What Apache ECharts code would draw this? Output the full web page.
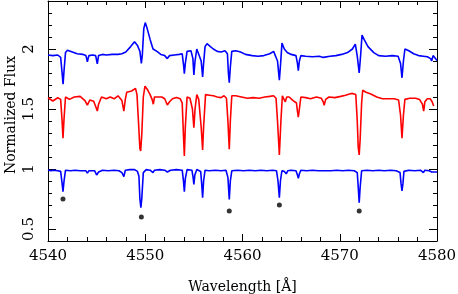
<!DOCTYPE html>
<html><head><meta charset="utf-8">
<script src="https://cdn.jsdelivr.net/npm/echarts@6/dist/echarts.min.js"></script>
<style>html,body{margin:0;padding:0;background:#fff}#c{width:458px;height:294px}</style>
</head><body><div id="c"></div>
<script>
// Top (blue) spectrum
const topWave = [4540.0,4540.5,4541.0,4541.3,4541.45,4541.55,4541.65,4541.8,4542.0,4542.5,4543.0,4543.6,4543.9,4544.05,4544.2,4544.6,4544.9,4545.07,4545.2,4545.6,4546.0,4546.6,4547.2,4547.6,4547.8,4548.0,4548.5,4548.9,4549.0,4549.2,4549.35,4549.45,4549.6,4549.7,4549.85,4550.0,4550.2,4550.5,4550.8,4551.2,4551.6,4552.0,4552.27,4552.5,4553.0,4553.5,4553.8,4553.95,4554.02,4554.12,4554.3,4554.7,4554.9,4555.0,4555.12,4555.3,4555.5,4555.75,4555.9,4556.0,4556.15,4556.35,4556.7,4557.0,4557.4,4557.8,4558.2,4558.45,4558.55,4558.64,4558.75,4558.9,4559.3,4559.8,4560.3,4561.0,4561.6,4562.2,4562.8,4563.2,4563.4,4563.6,4563.79,4563.92,4564.06,4564.3,4564.6,4565.0,4565.5,4565.65,4565.74,4565.85,4566.0,4566.5,4567.2,4567.9,4568.3,4568.4,4568.5,4569.0,4569.6,4570.2,4570.8,4571.3,4571.6,4571.8,4572.0,4572.15,4572.29,4572.5,4572.9,4573.5,4574.0,4574.7,4575.4,4576.0,4576.25,4576.4,4576.55,4576.7,4577.1,4577.6,4578.1,4578.6,4579.0,4579.35,4579.45,4579.6,4579.8,4580.0];
const topFlux = [1.95,1.945,1.95,1.93,1.80,1.706,1.82,1.97,1.99,1.975,1.96,1.955,1.945,1.894,1.945,1.95,1.945,1.877,1.945,1.955,1.95,1.955,1.955,1.96,1.945,1.975,2.02,2.06,2.07,2.03,2.00,1.98,1.88,1.95,2.17,2.22,2.17,2.08,2.00,1.98,1.955,1.945,1.92,1.945,1.95,1.955,1.96,1.86,1.794,1.88,1.98,1.985,1.92,1.783,1.90,2.00,1.99,1.90,1.767,1.88,2.02,2.044,2.02,2.00,1.98,1.975,1.985,1.96,1.80,1.72,1.85,1.98,1.985,1.975,1.955,1.945,1.94,1.945,1.96,1.98,1.995,1.90,1.74,1.88,2.05,2.00,1.97,1.955,1.945,1.88,1.82,1.90,1.945,1.94,1.935,1.94,1.93,1.92,1.935,1.94,1.945,1.955,1.97,2.00,2.04,1.94,1.80,1.95,2.117,2.08,2.02,1.97,1.945,1.94,1.945,1.94,1.88,1.76,1.90,2.00,1.985,1.96,1.945,1.94,1.935,1.92,1.90,1.945,1.93,1.905];

// Middle (red) spectrum
const midWave = [4540.0,4540.5,4541.0,4541.3,4541.45,4541.54,4541.65,4541.8,4542.2,4542.7,4543.3,4543.8,4544.05,4544.3,4544.7,4545.0,4545.07,4545.2,4545.5,4546.0,4546.4,4546.8,4547.2,4547.6,4547.8,4547.95,4548.1,4548.6,4549.0,4549.15,4549.3,4549.45,4549.53,4549.65,4549.8,4549.97,4550.2,4550.5,4550.7,4550.83,4550.95,4551.3,4551.7,4552.0,4552.27,4552.5,4552.8,4553.2,4553.6,4553.8,4553.92,4554.02,4554.12,4554.3,4554.6,4554.85,4555.0,4555.12,4555.3,4555.5,4555.75,4555.9,4556.0,4556.2,4556.6,4557.0,4557.4,4557.8,4558.1,4558.35,4558.5,4558.64,4558.75,4558.9,4559.3,4559.9,4560.5,4561.1,4561.7,4562.3,4562.8,4563.2,4563.45,4563.6,4563.79,4563.95,4564.1,4564.25,4564.4,4564.55,4564.8,4565.2,4565.55,4565.65,4565.74,4565.85,4566.0,4566.5,4567.0,4567.6,4568.1,4568.3,4568.4,4568.55,4568.9,4569.5,4570.1,4570.6,4571.0,4571.3,4571.65,4571.8,4571.9,4572.0,4572.1,4572.25,4572.36,4572.7,4573.2,4573.8,4574.4,4575.0,4575.6,4576.05,4576.25,4576.4,4576.55,4576.7,4577.2,4577.8,4578.2,4578.5,4578.63,4578.75,4579.0,4579.3,4579.5,4579.66];
const midFlux = [1.594,1.567,1.594,1.58,1.40,1.256,1.42,1.60,1.58,1.60,1.605,1.57,1.533,1.575,1.565,1.50,1.483,1.54,1.60,1.585,1.60,1.585,1.61,1.57,1.483,1.58,1.64,1.65,1.672,1.62,1.40,1.17,1.15,1.30,1.60,1.69,1.665,1.62,1.58,1.54,1.60,1.60,1.60,1.585,1.533,1.56,1.585,1.595,1.585,1.55,1.30,1.108,1.35,1.60,1.59,1.50,1.344,1.50,1.62,1.58,1.35,1.158,1.35,1.62,1.615,1.61,1.60,1.595,1.61,1.59,1.40,1.164,1.40,1.61,1.61,1.60,1.59,1.595,1.59,1.60,1.605,1.61,1.59,1.40,1.117,1.40,1.61,1.60,1.56,1.60,1.60,1.57,1.55,1.48,1.433,1.50,1.60,1.595,1.585,1.60,1.59,1.56,1.53,1.58,1.60,1.595,1.605,1.615,1.625,1.63,1.62,1.40,1.18,1.117,1.25,1.55,1.656,1.64,1.625,1.60,1.585,1.585,1.585,1.575,1.45,1.256,1.45,1.58,1.59,1.59,1.58,1.54,1.483,1.56,1.585,1.585,1.56,1.525];

// Bottom (blue) spectrum
const lowWave = [4540.0,4540.3,4540.6,4541.0,4541.3,4541.45,4541.54,4541.65,4541.8,4542.3,4542.8,4543.3,4543.9,4544.05,4544.2,4544.8,4545.0,4545.07,4545.2,4545.6,4546.2,4546.8,4547.3,4547.6,4547.8,4547.95,4548.4,4548.9,4549.2,4549.35,4549.45,4549.55,4549.65,4549.8,4550.1,4550.5,4550.8,4550.95,4551.5,4552.0,4552.27,4552.6,4553.2,4553.8,4553.93,4554.02,4554.12,4554.3,4554.8,4554.92,4555.0,4555.1,4555.3,4555.7,4555.8,4555.9,4556.0,4556.15,4556.6,4557.2,4557.8,4558.3,4558.5,4558.64,4558.75,4558.9,4559.5,4560.1,4560.7,4561.3,4561.9,4562.5,4563.1,4563.5,4563.65,4563.79,4563.9,4564.05,4564.3,4564.5,4564.65,4565.0,4565.5,4565.65,4565.74,4565.85,4566.0,4566.6,4567.2,4567.8,4568.3,4568.4,4568.5,4569.1,4569.7,4570.3,4570.9,4571.5,4571.8,4571.9,4572.0,4572.1,4572.25,4572.8,4573.4,4574.0,4574.6,4575.2,4575.8,4576.2,4576.3,4576.4,4576.5,4576.6,4577.1,4577.7,4578.3,4578.6,4578.75,4579.2,4579.45,4579.6,4580.0];
const lowFlux = [0.992,0.985,0.99,0.985,0.98,0.88,0.811,0.90,0.99,0.985,0.99,0.985,0.985,0.965,0.985,0.985,0.95,0.942,0.975,0.99,0.985,0.99,0.985,0.97,0.936,0.99,0.995,0.995,0.98,0.94,0.75,0.678,0.76,0.97,0.995,0.99,0.97,0.99,0.995,0.99,0.975,0.99,0.995,0.99,0.90,0.811,0.92,0.995,0.99,0.93,0.872,0.95,0.995,0.98,0.88,0.761,0.90,0.99,0.985,0.99,0.985,0.99,0.93,0.747,0.90,0.985,0.99,0.985,0.99,0.985,0.99,0.985,0.99,0.985,0.90,0.761,0.90,0.985,0.98,0.96,0.985,0.99,0.985,0.95,0.922,0.96,0.99,0.985,0.99,0.985,0.985,0.975,0.99,0.985,0.99,0.985,0.99,0.985,0.97,0.85,0.719,0.85,0.985,0.99,0.985,0.99,0.985,0.99,0.985,0.97,0.88,0.817,0.88,0.98,0.99,0.985,0.99,0.97,0.99,0.985,0.975,0.985,0.975];

// Marked lines (black dots)
const dotWave = [4541.54,4549.6,4558.64,4563.79,4572.0];
const dotFlux = [0.75,0.60,0.65,0.70,0.65];

// Axis ticks
const xMajor = [4540,4550,4560,4570,4580];
const yMajor = [0.5,1,1.5,2];
const yRange = [0.4,2.4];

const FONT = 'DejaVu Serif';
const pairs = (a,b) => a.map((x,i)=>[x,b[i]]);
const chart = echarts.init(document.getElementById('c'), null, {renderer:'canvas'});
const black = {color:'#000', width:1};
// main plot box: y from 1 to 241 px => 120 px per flux unit
const TOP = 1, BOT = 53, H = 294 - TOP - BOT;
const ppu = H / (yRange[1] - yRange[0]);
const G0 = {left:48, right:21, top:TOP, bottom:BOT, containLabel:false, outerBoundsMode:'none'};
// second grid spans exactly the major tick range so its ticks land on yMajor values
const G1 = {left:48, right:21,
  top: TOP + (yRange[1] - yMajor[yMajor.length-1]) * ppu,
  bottom: BOT + (yMajor[0] - yRange[0]) * ppu,
  containLabel:false, outerBoundsMode:'none'};

const xBase = (pos, labels) => ({
  type:'value', position:pos, gridIndex:0, min:xMajor[0], max:xMajor[xMajor.length-1], interval:10,
  axisLine:{show:true, onZero:false, lineStyle:black},
  axisTick:{show:true, inside:true, length:7, lineStyle:black},
  minorTick:{show:true, splitNumber:5, length:4, lineStyle:black},
  splitLine:{show:false},
  axisLabel:{show:labels, color:'#000', fontFamily:FONT, fontSize:15, margin:8,
    showMinLabel:true, showMaxLabel:true, formatter:(v)=>String(v)}
});
const yMinor = (pos) => ({
  type:'value', position:pos, gridIndex:0, min:yRange[0], max:yRange[1], interval:0.1,
  axisLine:{show:true, onZero:false, lineStyle:black},
  axisTick:{show:true, inside:true, length:4, lineStyle:black},
  splitLine:{show:false}, axisLabel:{show:false}
});
const yMaj = (pos, labels) => ({
  type:'value', position:pos, gridIndex:1, min:yMajor[0], max:yMajor[yMajor.length-1], interval:0.5,
  axisLine:{show:false},
  axisTick:{show:true, inside:true, length:8, lineStyle:black},
  splitLine:{show:false},
  axisLabel:{show:labels, rotate:90, color:'#000', fontFamily:FONT, fontSize:15, margin:11,
    showMinLabel:true, showMaxLabel:true, formatter:(v)=>String(v)}
});
const xb = xBase('bottom', true);
xb.name = 'Wavelength [Å]';
xb.nameLocation = 'middle';
xb.nameGap = 39;
xb.nameTextStyle = {color:'#000', fontFamily:FONT, fontSize:14};
const yl = yMinor('left');
yl.name = 'Normalized Flux';
yl.nameLocation = 'middle';
yl.nameGap = 30;
yl.nameTextStyle = {color:'#000', fontFamily:FONT, fontSize:14, padding:[0,0,0,12]};

chart.setOption({
  animation:false,
  backgroundColor:'#fff',
  grid:[G0, G1],
  xAxis:[xb, xBase('top', false),
    {type:'value', gridIndex:1, min:xMajor[0], max:xMajor[xMajor.length-1], show:false}],
  yAxis:[yl, yMinor('right'), yMaj('left', true), yMaj('right', false)],
  series:[
    {type:'line', xAxisIndex:0, yAxisIndex:0, data:pairs(topWave, topFlux), showSymbol:false, lineStyle:{color:'#0000ff', width:1.6}, itemStyle:{color:'#0000ff'}},
    {type:'line', xAxisIndex:0, yAxisIndex:0, data:pairs(midWave, midFlux), showSymbol:false, lineStyle:{color:'#ff0000', width:1.6}, itemStyle:{color:'#ff0000'}},
    {type:'line', xAxisIndex:0, yAxisIndex:0, data:pairs(lowWave, lowFlux), showSymbol:false, lineStyle:{color:'#0000ff', width:1.6}, itemStyle:{color:'#0000ff'}},
    {type:'scatter', xAxisIndex:0, yAxisIndex:0, data:pairs(dotWave, dotFlux), symbolSize:5, itemStyle:{color:'#000'}}
  ]
});
</script></body></html>
